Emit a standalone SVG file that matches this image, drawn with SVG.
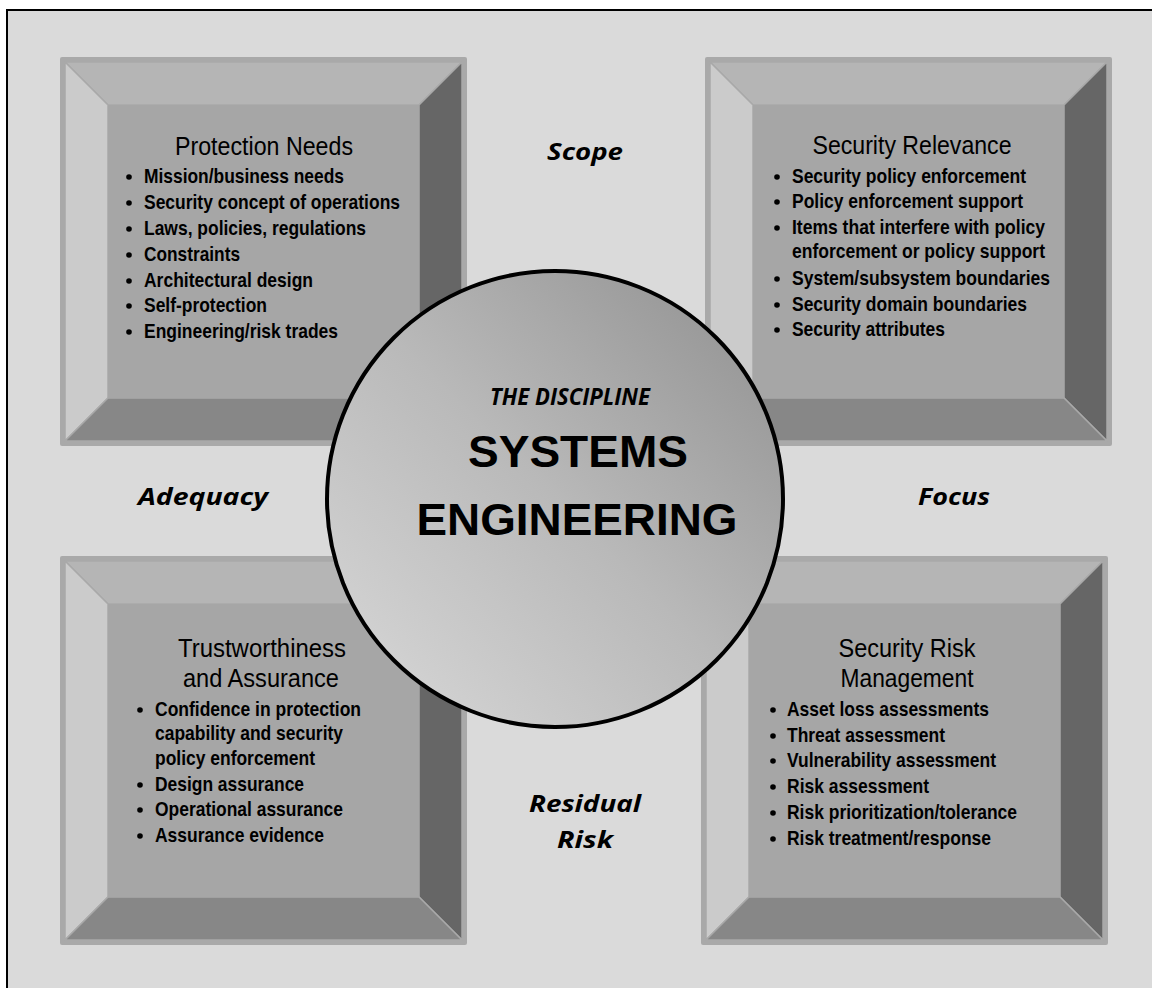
<svg xmlns="http://www.w3.org/2000/svg" xmlns:xlink="http://www.w3.org/1999/xlink" width="1152" height="988" viewBox="0 0 1152 988">
<defs>
<style>
.ttl{font-family:"Liberation Sans Narrow","Arial Narrow","Liberation Sans",Arial,sans-serif;font-size:25px;fill:#000;text-anchor:middle}
.bl{font-family:"Liberation Sans Narrow","Arial Narrow","Liberation Sans",Arial,sans-serif;font-size:21px;font-weight:700;fill:#000}
.lbl{font-family:"Open Sans","Noto Sans","Liberation Sans",sans-serif;font-size:24px;font-weight:700;font-style:italic;fill:#000;text-anchor:middle}
.dot{fill:#000}
.bev{stroke:#a9a9a9;stroke-width:1.5;stroke-linejoin:round}
</style>
<linearGradient id="cg" x1="0" y1="1" x2="1" y2="0">
<stop offset="0" stop-color="#dadada"/>
<stop offset="0.5" stop-color="#b9b9b9"/>
<stop offset="1" stop-color="#8e8e8e"/>
</linearGradient>
<g id="bevel">
<rect x="0" y="0" width="407" height="389" rx="2" fill="#a9a9a9"/>
<polygon class="bev" points="5,5 402,5 359,48 48,48" fill="#b5b5b5"/>
<polygon class="bev" points="5,5 48,48 48,341 5,384" fill="#cbcbcb"/>
<polygon class="bev" points="402,5 402,384 359,341 359,48" fill="#666666"/>
<polygon class="bev" points="5,384 48,341 359,341 402,384" fill="#878787"/>
<rect x="48" y="48" width="311" height="293" fill="#a6a6a6"/>
</g>
</defs>
<rect x="7" y="10" width="1160" height="990" fill="#dadada" stroke="#000" stroke-width="2"/>

<g id="protection-needs">
<use xlink:href="#bevel" x="60" y="57"/>
<text class="ttl" x="264" y="155" textLength="178" lengthAdjust="spacingAndGlyphs">Protection Needs</text>
<circle class="dot" cx="129" cy="177" r="2.8"/><text class="bl" x="144" y="183" textLength="200" lengthAdjust="spacingAndGlyphs">Mission/business needs</text>
<circle class="dot" cx="129" cy="203" r="2.8"/><text class="bl" x="144" y="209" textLength="256" lengthAdjust="spacingAndGlyphs">Security concept of operations</text>
<circle class="dot" cx="129" cy="229" r="2.8"/><text class="bl" x="144" y="235" textLength="222" lengthAdjust="spacingAndGlyphs">Laws, policies, regulations</text>
<circle class="dot" cx="129" cy="255" r="2.8"/><text class="bl" x="144" y="261" textLength="96" lengthAdjust="spacingAndGlyphs">Constraints</text>
<circle class="dot" cx="129" cy="281" r="2.8"/><text class="bl" x="144" y="287" textLength="169" lengthAdjust="spacingAndGlyphs">Architectural design</text>
<circle class="dot" cx="129" cy="306" r="2.8"/><text class="bl" x="144" y="312" textLength="123" lengthAdjust="spacingAndGlyphs">Self-protection</text>
<circle class="dot" cx="129" cy="332" r="2.8"/><text class="bl" x="144" y="338" textLength="194" lengthAdjust="spacingAndGlyphs">Engineering/risk trades</text>
</g>

<g id="security-relevance">
<use xlink:href="#bevel" x="705" y="57"/>
<text class="ttl" x="912" y="154" textLength="199" lengthAdjust="spacingAndGlyphs">Security Relevance</text>
<circle class="dot" cx="777" cy="177" r="2.8"/><text class="bl" x="792" y="183" textLength="234" lengthAdjust="spacingAndGlyphs">Security policy enforcement</text>
<circle class="dot" cx="777" cy="202" r="2.8"/><text class="bl" x="792" y="208" textLength="231" lengthAdjust="spacingAndGlyphs">Policy enforcement support</text>
<circle class="dot" cx="777" cy="228" r="2.8"/><text class="bl" x="792" y="234" textLength="253" lengthAdjust="spacingAndGlyphs">Items that interfere with policy</text>
<text class="bl" x="792" y="258" textLength="253" lengthAdjust="spacingAndGlyphs">enforcement or policy support</text>
<circle class="dot" cx="777" cy="279" r="2.8"/><text class="bl" x="792" y="285" textLength="258" lengthAdjust="spacingAndGlyphs">System/subsystem boundaries</text>
<circle class="dot" cx="777" cy="305" r="2.8"/><text class="bl" x="792" y="311" textLength="235" lengthAdjust="spacingAndGlyphs">Security domain boundaries</text>
<circle class="dot" cx="777" cy="330" r="2.8"/><text class="bl" x="792" y="336" textLength="153" lengthAdjust="spacingAndGlyphs">Security attributes</text>
</g>

<g id="trustworthiness">
<use xlink:href="#bevel" x="60" y="556"/>
<text class="ttl" x="262" y="657" textLength="168" lengthAdjust="spacingAndGlyphs">Trustworthiness</text>
<text class="ttl" x="261" y="687" textLength="156" lengthAdjust="spacingAndGlyphs">and Assurance</text>
<circle class="dot" cx="140" cy="710" r="2.8"/><text class="bl" x="155" y="716" textLength="206" lengthAdjust="spacingAndGlyphs">Confidence in protection</text>
<text class="bl" x="155" y="740" textLength="188" lengthAdjust="spacingAndGlyphs">capability and security</text>
<text class="bl" x="155" y="765" textLength="160" lengthAdjust="spacingAndGlyphs">policy enforcement</text>
<circle class="dot" cx="140" cy="785" r="2.8"/><text class="bl" x="155" y="791" textLength="149" lengthAdjust="spacingAndGlyphs">Design assurance</text>
<circle class="dot" cx="140" cy="810" r="2.8"/><text class="bl" x="155" y="816" textLength="188" lengthAdjust="spacingAndGlyphs">Operational assurance</text>
<circle class="dot" cx="140" cy="836" r="2.8"/><text class="bl" x="155" y="842" textLength="169" lengthAdjust="spacingAndGlyphs">Assurance evidence</text>
</g>

<g id="security-risk-management">
<use xlink:href="#bevel" x="701" y="556"/>
<text class="ttl" x="907" y="657" textLength="137" lengthAdjust="spacingAndGlyphs">Security Risk</text>
<text class="ttl" x="907" y="687" textLength="133" lengthAdjust="spacingAndGlyphs">Management</text>
<circle class="dot" cx="773" cy="710" r="2.8"/><text class="bl" x="787" y="716" textLength="202" lengthAdjust="spacingAndGlyphs">Asset loss assessments</text>
<circle class="dot" cx="773" cy="736" r="2.8"/><text class="bl" x="787" y="742" textLength="158" lengthAdjust="spacingAndGlyphs">Threat assessment</text>
<circle class="dot" cx="773" cy="761" r="2.8"/><text class="bl" x="787" y="767" textLength="209" lengthAdjust="spacingAndGlyphs">Vulnerability assessment</text>
<circle class="dot" cx="773" cy="787" r="2.8"/><text class="bl" x="787" y="793" textLength="142" lengthAdjust="spacingAndGlyphs">Risk assessment</text>
<circle class="dot" cx="773" cy="813" r="2.8"/><text class="bl" x="787" y="819" textLength="230" lengthAdjust="spacingAndGlyphs">Risk prioritization/tolerance</text>
<circle class="dot" cx="773" cy="839" r="2.8"/><text class="bl" x="787" y="845" textLength="204" lengthAdjust="spacingAndGlyphs">Risk treatment/response</text>
</g>

<g id="systems-engineering">
<circle cx="555" cy="499" r="228" fill="url(#cg)" stroke="#000" stroke-width="4"/>
<text class="lbl" x="570" y="405" font-size="20" textLength="160" lengthAdjust="spacingAndGlyphs">THE DISCIPLINE</text>
<text x="578" y="467" font-family="Liberation Sans,Arial,sans-serif" font-size="45" font-weight="700" text-anchor="middle" textLength="220" lengthAdjust="spacingAndGlyphs">SYSTEMS</text>
<text x="577" y="535" font-family="Liberation Sans,Arial,sans-serif" font-size="45" font-weight="700" text-anchor="middle" textLength="321" lengthAdjust="spacingAndGlyphs">ENGINEERING</text>
</g>

<g id="labels">
<text class="lbl" x="585" y="160" textLength="76" lengthAdjust="spacingAndGlyphs">Scope</text>
<text class="lbl" x="203" y="505" textLength="130" lengthAdjust="spacingAndGlyphs">Adequacy</text>
<text class="lbl" x="954" y="505" textLength="72" lengthAdjust="spacingAndGlyphs">Focus</text>
<text class="lbl" x="585" y="812" textLength="112" lengthAdjust="spacingAndGlyphs">Residual</text>
<text class="lbl" x="585" y="848" textLength="56" lengthAdjust="spacingAndGlyphs">Risk</text>
</g>
<g id="connectors"/>
</svg>
